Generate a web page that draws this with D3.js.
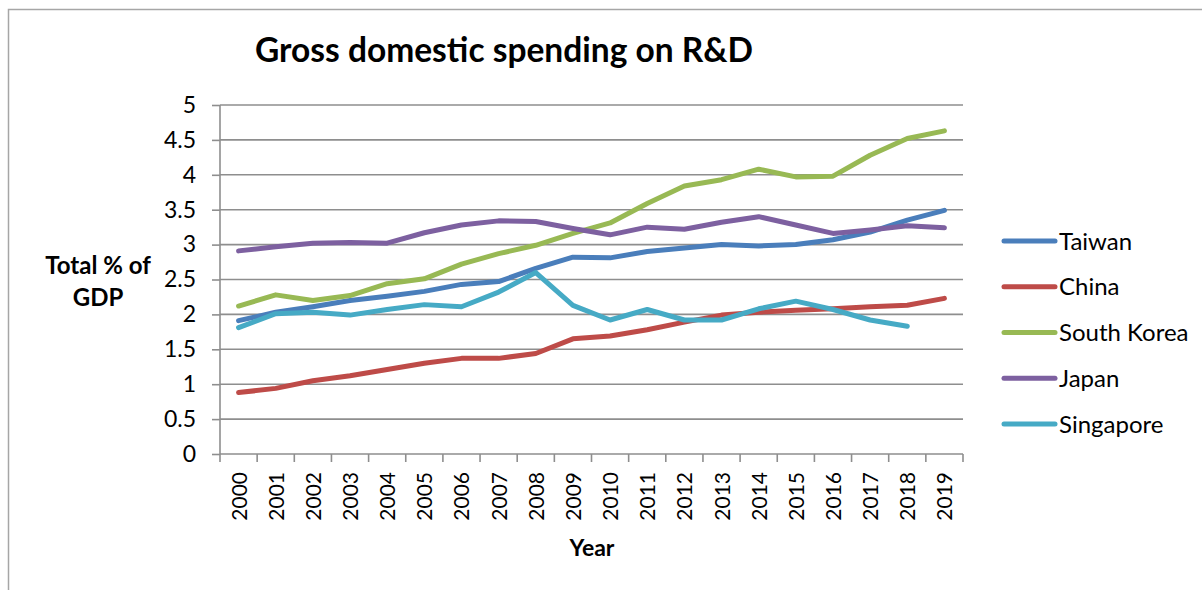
<!DOCTYPE html>
<html>
<head>
<meta charset="utf-8">
<title>Gross domestic spending on R&amp;D</title>
<style type="text/css">
	body { margin: 0; background: #fff; }
	svg { display: block; font-family: Lato, "Open Sans", sans-serif; }
	.grid line { stroke: #8e8e8e; stroke-width: 1.6; }
	.axis path, .axis line { stroke: #8e8e8e; stroke-width: 1.6; }
	.series { fill: none; stroke-width: 5; stroke-linejoin: round; stroke-linecap: round; }
</style>
<script src="https://cdn.jsdelivr.net/npm/d3@7/dist/d3.min.js"></script>
</head>
<body>
<div id="chart"></div>
<script type="text/javascript">
var years = ['2000','2001','2002','2003','2004','2005','2006','2007','2008','2009',
	'2010','2011','2012','2013','2014','2015','2016','2017','2018','2019'];
var yTickLabels = ['0','0.5','1','1.5','2','2.5','3','3.5','4','4.5','5'];
var seriesNames = ['Taiwan','China','South Korea','Japan','Singapore'];
var seriesColors = ['#4a7ebb','#be4b48','#98b954','#7d60a0','#46aac5'];

var taiwan = [1.91,2.03,2.11,2.20,2.26,2.33,2.43,2.47,2.66,2.82,2.81,2.90,2.95,3.00,2.98,3.00,3.07,3.18,3.35,3.49];
var china = [0.88,0.94,1.05,1.12,1.21,1.30,1.37,1.37,1.44,1.65,1.69,1.78,1.89,1.99,2.03,2.06,2.08,2.11,2.13,2.23];
var southKorea = [2.12,2.28,2.20,2.27,2.44,2.51,2.72,2.87,2.99,3.16,3.31,3.59,3.84,3.93,4.08,3.97,3.98,4.28,4.52,4.63];
var japan = [2.91,2.97,3.02,3.03,3.02,3.17,3.28,3.34,3.33,3.23,3.14,3.25,3.22,3.32,3.40,3.28,3.16,3.21,3.27,3.24];
var singapore = [1.81,2.01,2.03,1.99,2.07,2.14,2.11,2.32,2.60,2.13,1.92,2.07,1.92,1.92,2.08,2.19,2.07,1.92,1.83,null];

var seriesValues = [taiwan, china, southKorea, japan, singapore];

var W = 1202, H = 590;
var plot = { left: 220, right: 963, top: 105, bottom: 454 };

var svg = d3.select('#chart').append('svg')
		.attr('width', W)
		.attr('height', H);

// outer chart border (right / bottom run off the picture)
svg.append('path')
		.attr('d', 'M8.5,' + (H + 2) + 'V9.5H' + (W + 2))
		.attr('fill', 'none')
		.attr('stroke', '#a6a6a6')
		.attr('stroke-width', 1.5);

var x = d3.scaleBand().domain(years).range([plot.left, plot.right]);
var y = d3.scaleLinear().domain([0, 5]).range([plot.bottom, plot.top]);
var yTicks = yTickLabels.map(Number);

// gridlines
svg.append('g').attr('class', 'grid')
	.selectAll('line').data(yTicks.filter(function(d){ return d > 0; }))
	.enter().append('line')
		.attr('x1', plot.left).attr('x2', plot.right)
		.attr('y1', function(d){ return y(d); })
		.attr('y2', function(d){ return y(d); });

// y axis
var yAxis = svg.append('g').attr('class', 'axis')
		.attr('transform', 'translate(' + plot.left + ',0)')
		.call(d3.axisLeft(y).tickValues(yTicks).tickSize(8).tickPadding(16)
			.tickFormat(function(d, i){ return yTickLabels[i]; }));
yAxis.select('.domain').attr('d', 'M0,' + y(5) + 'V' + y(0));
yAxis.selectAll('text').attr('font-size', 23).attr('fill', '#000')
	.attr('font-family', 'Lato, sans-serif');

// x axis (ticks on category boundaries like the original)
var xAxis = svg.append('g').attr('class', 'axis');
xAxis.append('line')
	.attr('x1', plot.left).attr('x2', plot.right)
	.attr('y1', y(0)).attr('y2', y(0));
xAxis.selectAll('.tk').data(years.concat(['end']))
	.enter().append('line').attr('class', 'tk')
		.attr('x1', function(d){ return d === 'end' ? plot.right : x(d); })
		.attr('x2', function(d){ return d === 'end' ? plot.right : x(d); })
		.attr('y1', y(0)).attr('y2', y(0) + 8);
xAxis.selectAll('text').data(years)
	.enter().append('text')
		.attr('transform', function(d){
			return 'translate(' + (x(d) + x.bandwidth() / 2 + 8) + ',' + (y(0) + 18) + ') rotate(-90)';
		})
		.attr('text-anchor', 'end')
		.attr('font-size', 21)
		.text(function(d){ return d; });

// lines
var line = d3.line()
		.defined(function(d){ return d.v != null; })
		.x(function(d){ return x(d.year) + x.bandwidth() / 2; })
		.y(function(d){ return y(d.v); });

seriesNames.forEach(function(name, i){
	var pts = years.map(function(yr, j){ return { year: yr, v: seriesValues[i][j] }; });
	svg.append('path')
		.attr('class', 'series')
		.attr('stroke', seriesColors[i])
		.attr('d', line(pts));
});

// title
svg.append('text')
	.attr('x', 504).attr('y', 62)
	.attr('text-anchor', 'middle')
	.attr('font-size', 33.5)
	.attr('font-weight', 'bold')
	.text('Gross domestic spending on R&D');

// axis titles
var yt = svg.append('text')
	.attr('text-anchor', 'middle')
	.attr('font-size', 24)
	.attr('font-weight', 'bold');
yt.append('tspan').attr('x', 98).attr('y', 274).text('Total % of');
yt.append('tspan').attr('x', 98).attr('y', 306).text('GDP');

svg.append('text')
	.attr('x', 592).attr('y', 556)
	.attr('text-anchor', 'middle')
	.attr('font-size', 23)
	.attr('font-weight', 'bold')
	.text('Year');

// legend
var legend = svg.append('g').selectAll('g').data(seriesNames)
	.enter().append('g')
		.attr('transform', function(d, i){ return 'translate(1004,' + (241 + i * 45.75) + ')'; });
legend.append('line')
	.attr('x1', 0).attr('x2', 51)
	.attr('stroke-width', 5).attr('stroke-linecap', 'round')
	.attr('stroke', function(d, i){ return seriesColors[i]; });
legend.append('text')
	.attr('x', 55).attr('dy', '0.36em')
	.attr('font-size', 24)
	.text(function(d){ return d; });
</script>
</body>
</html>
